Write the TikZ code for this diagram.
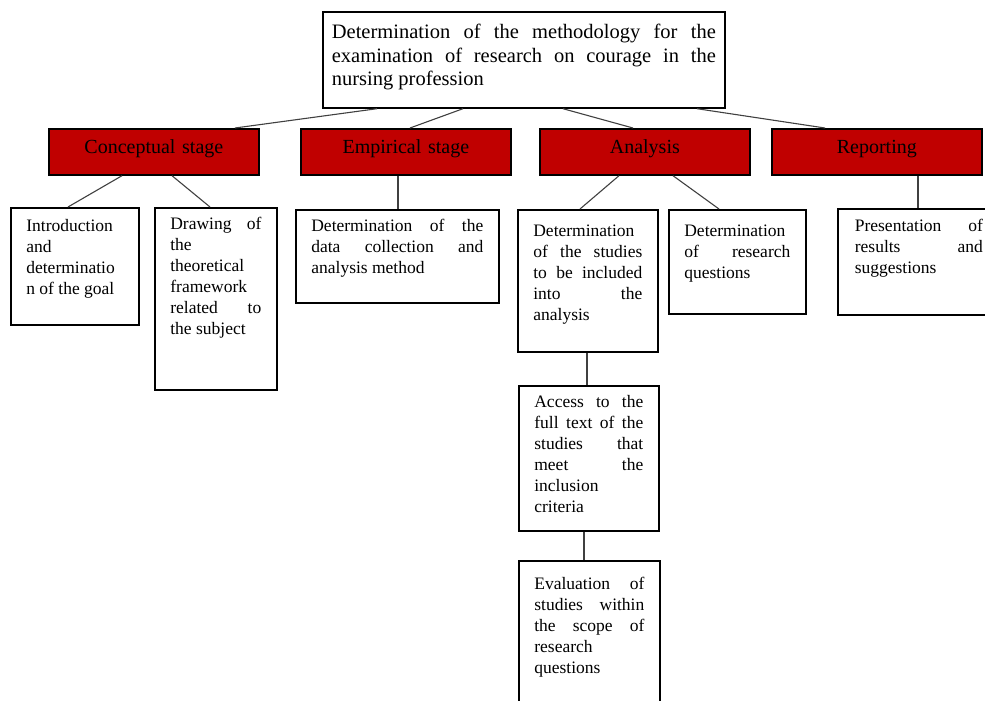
\documentclass[tikz,border=0pt]{standalone}
\usepackage{fontspec}
\setmainfont{Liberation Serif}
\usetikzlibrary{positioning}
\definecolor{stagered}{HTML}{C00000}
\newcommand\leaffont{\fontsize{17.5}{21}\selectfont\hyphenpenalty=10000\tolerance=10000\hbadness=10000}
\newcommand\headfont{\fontsize{20.5}{23.5}\selectfont\hyphenpenalty=10000\tolerance=10000\hbadness=10000}
\newcommand\stagefont{\fontsize{20}{23}\selectfont}

\begin{document}
\begin{tikzpicture}[x=1pt,y=-1pt,
        box/.style={draw,line width=1.7pt,anchor=north west,inner xsep=15.5pt,inner ysep=0pt,align=justify,font=\leaffont},
        stage/.style={draw,line width=1.7pt,fill=stagered,anchor=north west,inner sep=0pt,text width=210pt,align=center,text height=25pt,text depth=21pt,font=\stagefont},
        link/.style={draw=black!75,line width=1.1pt}]
        \useasboundingbox (0,0) rectangle (985,701);
        \clip (0,0) rectangle (985,701);

        \node[box,inner xsep=9pt,text width=384pt,text height=27pt,text depth=69pt,font=\headfont] at (322,11) (method) {Determination of the methodology for the\linebreak examination of research on courage in the\linebreak nursing profession};

        \node[stage] at (48,128) (concept) {Conceptual stage};
        \node[stage] at (300,128) (empiric) {Empirical stage};
        \node[stage] at (539,128) (analysis) {Analysis};
        \node[stage] at (771,128) (report) {Reporting};

        \node[box,text width=97pt,text height=24pt,text depth=93pt] at (10,207) (intro) {Introduction\linebreak and\linebreak determinatio\linebreak n of the goal};
        \node[box,text width=91pt,text height=22pt,text depth=160pt] at (154,207) (frame) {Drawing of\linebreak the\linebreak theoretical\linebreak framework\linebreak related to\linebreak the subject};
        \node[box,text width=172pt,text height=22pt,text depth=71pt] at (295,209) (datamethod) {Determination of the\linebreak data collection and\linebreak analysis method};
        \node[box,text width=109pt,text height=27pt,text depth=115pt] at (517,209) (studies) {Determination\linebreak of the studies\linebreak to be included\linebreak into the\linebreak analysis};
        \node[box,text width=106pt,text height=27pt,text depth=77pt] at (668,209) (questions) {Determination\linebreak of research\linebreak questions};
        \node[box,inner xsep=17pt,text width=128pt,text height=23pt,text depth=83pt] at (837,208) (results) {Presentation of\linebreak results and\linebreak suggestions};
        \node[box,text width=109pt,text height=22pt,text depth=123pt] at (518,385) (access) {Access to the\linebreak full text of the\linebreak studies that\linebreak meet the\linebreak inclusion\linebreak criteria};
        \node[box,text width=110pt,text height=29pt,text depth=131pt] at (518,560) (evaluate) {Evaluation of\linebreak studies within\linebreak the scope of\linebreak research\linebreak questions};

        \draw[link] ([xshift=55]method.south west) -- ([xshift=187]concept.north west);
        \draw[link] ([xshift=141]method.south west) -- ([xshift=110]empiric.north west);
        \draw[link] ([xshift=241]method.south west) -- ([xshift=94]analysis.north west);
        \draw[link] ([xshift=375]method.south west) -- ([xshift=54]report.north west);

        \draw[link] ([xshift=74]concept.south west) -- ([xshift=58]intro.north west);
        \draw[link] ([xshift=124]concept.south west) -- ([xshift=56]frame.north west);
        \draw[link] ([xshift=98]empiric.south west) -- ([xshift=103]datamethod.north west);
        \draw[link] ([xshift=80]analysis.south west) -- ([xshift=63]studies.north west);
        \draw[link] ([xshift=134]analysis.south west) -- ([xshift=51]questions.north west);
        \draw[link] ([xshift=147]report.south west) -- ([xshift=81]results.north west);
        \draw[link] ([xshift=70]studies.south west) -- ([xshift=69]access.north west);
        \draw[link] ([xshift=66]access.south west) -- ([xshift=66]evaluate.north west);
\end{tikzpicture}
\end{document}
